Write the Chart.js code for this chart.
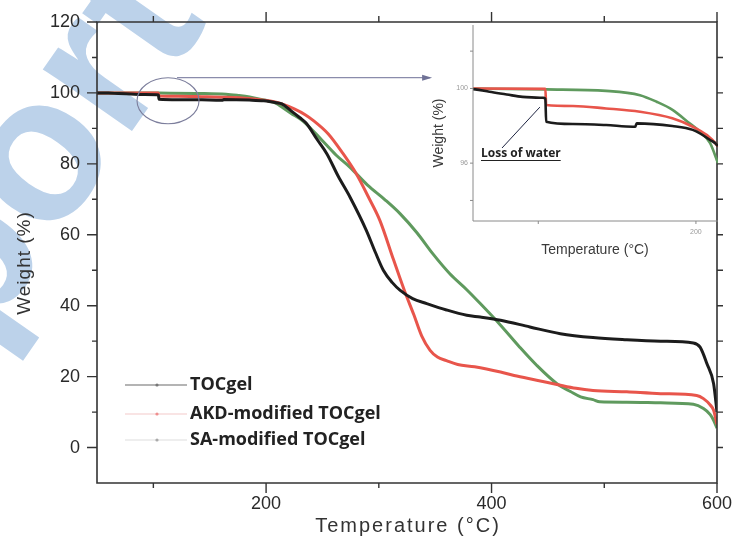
<!DOCTYPE html>
<html>
<head>
<meta charset="utf-8">
<script src="https://cdn.jsdelivr.net/npm/chart.js@4.4.1/dist/chart.umd.min.js"></script>
<style>
  html, body { margin: 0; padding: 0; background: #fff; }
  #wrap { position: relative; width: 733px; height: 551px; }
  #wrap canvas { position: absolute; left: 0; top: 0; }
  #inset { pointer-events: none; }
</style>
</head>
<body>
<div id="wrap">
  <canvas id="main" width="733" height="551"></canvas>
  <canvas id="inset" width="733" height="551"></canvas>
</div>
<script>
// TGA curves: temperature (°C) and residual weight (%)
const seriesNames = ['TOCgel', 'AKD-modified TOCgel', 'SA-modified TOCgel'];

const tocgelTemp = [50, 60, 69, 80, 90, 103, 104.5, 105, 122, 143, 160, 161.5, 162.4, 185, 198, 209, 214, 222, 230, 236, 245, 254, 264, 274.5, 289, 297, 304, 312, 319, 330, 342.5, 360, 378, 390, 408, 434, 461, 490, 520, 550, 579, 585, 591, 597, 600];
const tocgelWeight = [100, 99.95, 99.82, 99.68, 99.55, 99.5, 99.45, 98.22, 98.1, 98.04, 97.95, 97.95, 98.13, 97.99, 97.78, 97.24, 96.9, 95, 93, 91.3, 87, 82.8, 76.5, 70.6, 61.2, 55, 50, 46.5, 44.3, 42, 40.6, 38.8, 37.3, 36.8, 35.9, 34, 32.1, 31, 30.4, 30, 29.5, 28.3, 23.7, 18, 10];

const akdTemp = [50, 104.5, 105, 122, 143, 164.5, 185, 198, 207, 214, 225, 235, 242, 255, 268, 280, 291, 301, 313, 323, 331, 338, 345.5, 352, 360, 370, 385, 408, 420, 440, 458, 475, 490, 520, 550, 582, 588, 594, 597, 600];
const akdWeight = [100, 99.98, 99.11, 99.06, 98.93, 98.75, 98.4, 97.95, 97.5, 96.9, 95.5, 93.8, 92.2, 88.5, 83, 77.2, 70.5, 64, 53, 44, 37.5, 31.5, 27.4, 25.5, 24.5, 23.4, 22.8, 21.3, 20.3, 19, 17.8, 16.7, 16.1, 15.7, 15.2, 14.7, 13.8, 12, 10.5, 6.5];

const saTemp = [50, 105, 143, 164.5, 175, 185.4, 196, 202.5, 209, 214, 222, 233, 250, 262, 274.5, 290, 305, 319, 334, 348, 363, 378, 390, 408, 425, 440, 458, 470, 479, 490, 496, 520, 550, 579, 588, 594, 597, 600];
const saWeight = [100, 99.95, 99.87, 99.64, 99.29, 98.84, 98.13, 97.69, 97.07, 96.0, 94.3, 92, 86.5, 82.5, 79, 74, 70, 65.9, 60.5, 54.6, 49, 44.5, 40.6, 34.5, 28.3, 23.2, 18, 15.8, 14.3, 13.5, 12.9, 12.8, 12.6, 12.2, 11, 9.3, 7.7, 5.5];

// axis ticks
const xTickLabels = [200, 400, 600];
const xMinorTicks = [100, 300, 500];
const yTickLabels = [0, 20, 40, 60, 80, 100, 120];
const yMinorTicks = [10, 30, 50, 70, 90, 110];
const insetXTicks = [100, 200];
const insetXTickLabels = [200];
const insetYTicks = [102, 100, 96, 94];
const insetYTickLabels = [100, 96];

const lineColors = ['#1c1c1c', '#e8554b', '#5f9a5e'];
const legendLineColors = ['#6a6a6a', '#f4c9c9', '#dedede'];
const legendDotColors = ['#777', '#ef8f8f', '#aaa'];

function toPoints(xs, ys) { return xs.map((x, i) => ({ x: x, y: ys[i] })); }

function makeDatasets(width) {
  const sets = [[tocgelTemp, tocgelWeight], [akdTemp, akdWeight], [saTemp, saWeight]];
  return sets.map((s, i) => ({
    label: seriesNames[i],
    data: toPoints(s[0], s[1]),
    borderColor: lineColors[i],
    borderWidth: width,
    pointRadius: 0,
    fill: false,
    cubicInterpolationMode: 'monotone',
    order: i
  }));
}

const INK = '#2a2a2a';

// watermark lettering behind the plot
const watermark = {
  id: 'watermark',
  beforeDraw(chart) {
    const ctx = chart.ctx;
    ctx.save();
    ctx.fillStyle = '#bcd2ea';
    ctx.font = 'bold 205px "Liberation Sans"';
    ctx.translate(-20, 348);
    ctx.rotate(-55 * Math.PI / 180);
    ctx.fillText('port', 0, 0);
    ctx.restore();
  }
};

// boxed frame with outward major/minor ticks, axis titles, legend and ellipse annotation
const mainDecor = {
  id: 'mainDecor',
  afterDraw(chart) {
    const ctx = chart.ctx;
    const xs = chart.scales.x, ys = chart.scales.y;
    const a = chart.chartArea;
    ctx.save();
    ctx.strokeStyle = '#333';
    ctx.lineWidth = 1.6;
    ctx.beginPath();
    ctx.rect(a.left, a.top, a.right - a.left, a.bottom - a.top);
    ctx.stroke();
    ctx.lineWidth = 1.4;
    ctx.beginPath();
    xTickLabels.forEach(v => {
      const px = xs.getPixelForValue(v);
      ctx.moveTo(px, a.bottom); ctx.lineTo(px, a.bottom + 10);
      ctx.moveTo(px, a.top); ctx.lineTo(px, a.top - 10);
    });
    xMinorTicks.forEach(v => {
      const px = xs.getPixelForValue(v);
      ctx.moveTo(px, a.bottom); ctx.lineTo(px, a.bottom + 5);
      ctx.moveTo(px, a.top); ctx.lineTo(px, a.top - 6);
    });
    yTickLabels.forEach(v => {
      const py = ys.getPixelForValue(v);
      ctx.moveTo(a.left, py); ctx.lineTo(a.left - 10, py);
      if (v < 120) { ctx.moveTo(a.right, py); ctx.lineTo(a.right + 6, py); }
    });
    yMinorTicks.forEach(v => {
      const py = ys.getPixelForValue(v);
      ctx.moveTo(a.left, py); ctx.lineTo(a.left - 5, py);
      ctx.moveTo(a.right, py); ctx.lineTo(a.right + 6, py);
    });
    ctx.stroke();

    // axis titles
    ctx.fillStyle = '#333';
    ctx.font = '20px "Liberation Sans"';
    ctx.textAlign = 'center';
    ctx.textBaseline = 'middle';
    ctx.letterSpacing = '2px';
    ctx.fillText('Temperature (\u00B0C)', (a.left + a.right) / 2 + 1, 526);
    ctx.font = '19px "Liberation Sans"';
    ctx.letterSpacing = '1px';
    ctx.save();
    ctx.translate(25, 263);
    ctx.rotate(-Math.PI / 2);
    ctx.fillText('Weight (%)', 0, 0);
    ctx.restore();
    ctx.letterSpacing = '0px';

    // legend
    const rows = [385, 414, 440];
    chart.data.datasets.forEach((d, i) => {
      const y = rows[i];
      ctx.strokeStyle = legendLineColors[i];
      ctx.lineWidth = 1.2;
      ctx.beginPath(); ctx.moveTo(125, y); ctx.lineTo(187, y); ctx.stroke();
      ctx.fillStyle = legendDotColors[i];
      ctx.beginPath(); ctx.arc(157, y, 1.6, 0, Math.PI * 2); ctx.fill();
      ctx.fillStyle = '#222';
      ctx.font = 'bold 18px "Open Sans"';
      ctx.textAlign = 'left';
      ctx.fillText(d.label, 190, y);
    });

    // ellipse marking the low-temperature region and arrow to the enlarged view
    const cx = xs.getPixelForValue(113), cy = ys.getPixelForValue(97.8);
    ctx.strokeStyle = '#7c7e9c';
    ctx.lineWidth = 1.1;
    ctx.beginPath(); ctx.ellipse(cx, cy, 31, 23, 0, 0, Math.PI * 2); ctx.stroke();
    const ay = ys.getPixelForValue(104.3);
    const ax0 = xs.getPixelForValue(121), ax1 = xs.getPixelForValue(345.5);
    ctx.strokeStyle = '#8a8cab';
    ctx.beginPath(); ctx.moveTo(ax0, ay); ctx.lineTo(ax1, ay); ctx.stroke();
    ctx.fillStyle = '#6f7196';
    ctx.beginPath(); ctx.moveTo(ax1 + 2, ay); ctx.lineTo(ax1 - 8, ay - 3); ctx.lineTo(ax1 - 8, ay + 3); ctx.closePath(); ctx.fill();
    ctx.restore();
  }
};

new Chart(document.getElementById('main'), {
  type: 'line',
  data: { datasets: makeDatasets(3) },
  options: {
    responsive: false,
    animation: false,
    events: [],
    layout: { padding: { left: 0, top: 22, right: 16, bottom: 0 } },
    plugins: { legend: { display: false }, tooltip: { enabled: false } },
    scales: {
      x: {
        type: 'linear', min: 50, max: 600,
        afterBuildTicks: s => { s.ticks = xTickLabels.map(v => ({ value: v })); },
        afterFit: s => { s.height = 68; s.paddingLeft = 0; s.paddingRight = 0; },
        ticks: { color: INK, font: { family: 'Liberation Sans', size: 18 }, padding: 10, maxRotation: 0, autoSkip: false },
        grid: { display: false, drawTicks: false, tickLength: 0 },
        border: { display: false }
      },
      y: {
        type: 'linear', min: -10, max: 120,
        afterBuildTicks: s => { s.ticks = yTickLabels.map(v => ({ value: v })); },
        afterFit: s => { s.width = 97; s.paddingTop = 0; s.paddingBottom = 0; },
        ticks: { color: INK, font: { family: 'Liberation Sans', size: 18 }, padding: 17, autoSkip: false },
        grid: { display: false, drawTicks: false, tickLength: 0 },
        border: { display: false }
      }
    }
  },
  plugins: [watermark, mainDecor]
});

// enlarged view of the water-loss step
const insetDecor = {
  id: 'insetDecor',
  afterDraw(chart) {
    const ctx = chart.ctx;
    const xs = chart.scales.x, ys = chart.scales.y;
    const a = chart.chartArea;
    ctx.save();
    ctx.strokeStyle = '#8a8a8a';
    ctx.lineWidth = 1;
    ctx.beginPath();
    ctx.moveTo(a.left, a.top); ctx.lineTo(a.left, a.bottom); ctx.lineTo(a.right, a.bottom);
    insetYTicks.forEach(v => { const py = ys.getPixelForValue(v); ctx.moveTo(a.left, py); ctx.lineTo(a.left - 3, py); });
    insetXTicks.forEach(v => { const px = xs.getPixelForValue(v); ctx.moveTo(px, a.bottom); ctx.lineTo(px, a.bottom + 3); });
    ctx.stroke();

    ctx.fillStyle = '#3a3a3a';
    ctx.font = '14px "Liberation Sans"';
    ctx.textAlign = 'center';
    ctx.textBaseline = 'middle';
    ctx.fillText('Temperature (\u00B0C)', 595, 250);
    ctx.save();
    ctx.translate(439, 133);
    ctx.rotate(-Math.PI / 2);
    ctx.fillText('Weight (%)', 0, 0);
    ctx.restore();

    // water-loss label with pointer
    ctx.fillStyle = '#222';
    ctx.font = 'bold 12px "Open Sans"';
    ctx.textAlign = 'left';
    const label = 'Loss of water';
    ctx.fillText(label, 481, 154);
    const w = ctx.measureText(label).width;
    ctx.strokeStyle = '#222';
    ctx.lineWidth = 1;
    ctx.beginPath(); ctx.moveTo(481, 160.5); ctx.lineTo(481 + w, 160.5); ctx.stroke();
    ctx.strokeStyle = '#1d2340';
    ctx.beginPath();
    ctx.moveTo(502, 148);
    ctx.lineTo(xs.getPixelForValue(101), ys.getPixelForValue(99.0));
    ctx.stroke();
    ctx.restore();
  }
};

new Chart(document.getElementById('inset'), {
  type: 'line',
  data: { datasets: makeDatasets(2.6) },
  options: {
    responsive: false,
    animation: false,
    events: [],
    layout: { padding: { left: 440, top: 25, right: 15, bottom: 290 } },
    plugins: { legend: { display: false }, tooltip: { enabled: false } },
    scales: {
      x: {
        type: 'linear', min: 58.6, max: 214,
        afterBuildTicks: s => { s.ticks = insetXTickLabels.map(v => ({ value: v })); },
        afterFit: s => { s.height = 40; s.paddingLeft = 0; s.paddingRight = 0; },
        ticks: { color: '#999', font: { family: 'Liberation Sans', size: 7 }, padding: 7, maxRotation: 0, autoSkip: false },
        grid: { display: false, drawTicks: false, tickLength: 0 },
        border: { display: false }
      },
      y: {
        type: 'linear', min: 92.9, max: 103.4,
        afterBuildTicks: s => { s.ticks = insetYTickLabels.map(v => ({ value: v })); },
        afterFit: s => { s.width = 33; s.paddingTop = 0; s.paddingBottom = 0; },
        ticks: { color: '#999', font: { family: 'Liberation Sans', size: 7 }, padding: 5, autoSkip: false },
        grid: { display: false, drawTicks: false, tickLength: 0 },
        border: { display: false }
      }
    }
  },
  plugins: [insetDecor]
});
</script>
</body>
</html>
